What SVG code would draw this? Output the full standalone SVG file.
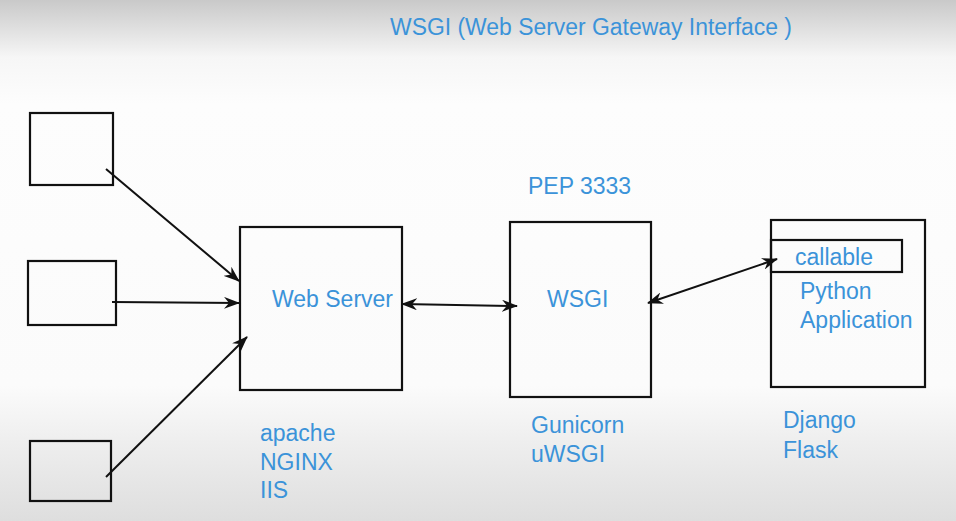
<svg xmlns="http://www.w3.org/2000/svg" width="956" height="521" viewBox="0 0 956 521">
<defs>
<linearGradient id="bg" x1="0" y1="0" x2="0" y2="1">
<stop offset="0" stop-color="#c9c9c9"/>
<stop offset="0.11" stop-color="#f6f6f6"/>
<stop offset="0.2" stop-color="#fdfdfd"/>
<stop offset="0.74" stop-color="#fbfbfb"/>
<stop offset="0.85" stop-color="#eeeeee"/>
<stop offset="1" stop-color="#dedede"/>
</linearGradient>
<marker id="ah" viewBox="0 0 16 12" refX="15" refY="6" markerWidth="16" markerHeight="12" markerUnits="userSpaceOnUse" orient="auto-start-reverse">
<path d="M0,0 L16,6 L0,12 L5,6 Z" fill="#111"/>
</marker>
<style>
.box{fill:none;stroke:#111;stroke-width:2.2}
.ln{fill:none;stroke:#111;stroke-width:2}
.t{font-family:"Liberation Sans",Arial,sans-serif;fill:#3b93d9;font-size:23px}
</style>
</defs>
<rect x="0" y="0" width="956" height="521" fill="url(#bg)"/>
<text class="t" x="390" y="35" font-size="24" textLength="402" lengthAdjust="spacingAndGlyphs">WSGI (Web Server Gateway Interface )</text>
<g id="client1"><rect class="box" x="30" y="113" width="83" height="72"/></g>
<g id="client2"><rect class="box" x="28" y="261" width="88" height="64"/></g>
<g id="client3"><rect class="box" x="30" y="441" width="81" height="60"/></g>
<g id="webserver">
<rect class="box" x="240" y="227" width="162" height="163"/>
<text class="t" x="272" y="307">Web Server</text>
<text class="t" x="260" y="441">apache</text>
<text class="t" x="260" y="470">NGINX</text>
<text class="t" x="260" y="498">IIS</text>
</g>
<g id="wsgi">
<text class="t" x="528" y="194">PEP 3333</text>
<rect class="box" x="510" y="222" width="141" height="175"/>
<text class="t" x="547" y="307">WSGI</text>
<text class="t" x="531" y="433">Gunicorn</text>
<text class="t" x="531" y="462">uWSGI</text>
</g>
<g id="app">
<rect class="box" x="771" y="220" width="154" height="167"/>
<rect class="box" x="771" y="240" width="131" height="32"/>
<text class="t" x="795" y="265">callable</text>
<text class="t" x="800" y="299">Python</text>
<text class="t" x="800" y="328">Application</text>
<text class="t" x="783" y="428">Django</text>
<text class="t" x="783" y="458">Flask</text>
</g>
<g id="connectors">
<line class="ln" x1="106" y1="169" x2="239" y2="281" marker-end="url(#ah)"/>
<line class="ln" x1="112" y1="302" x2="239" y2="303" marker-end="url(#ah)"/>
<line class="ln" x1="106" y1="477" x2="247" y2="337" marker-end="url(#ah)"/>
<line class="ln" x1="402" y1="304" x2="517" y2="306" marker-start="url(#ah)" marker-end="url(#ah)"/>
<line class="ln" x1="648" y1="303" x2="777" y2="259" marker-start="url(#ah)" marker-end="url(#ah)"/>
</g>
</svg>
